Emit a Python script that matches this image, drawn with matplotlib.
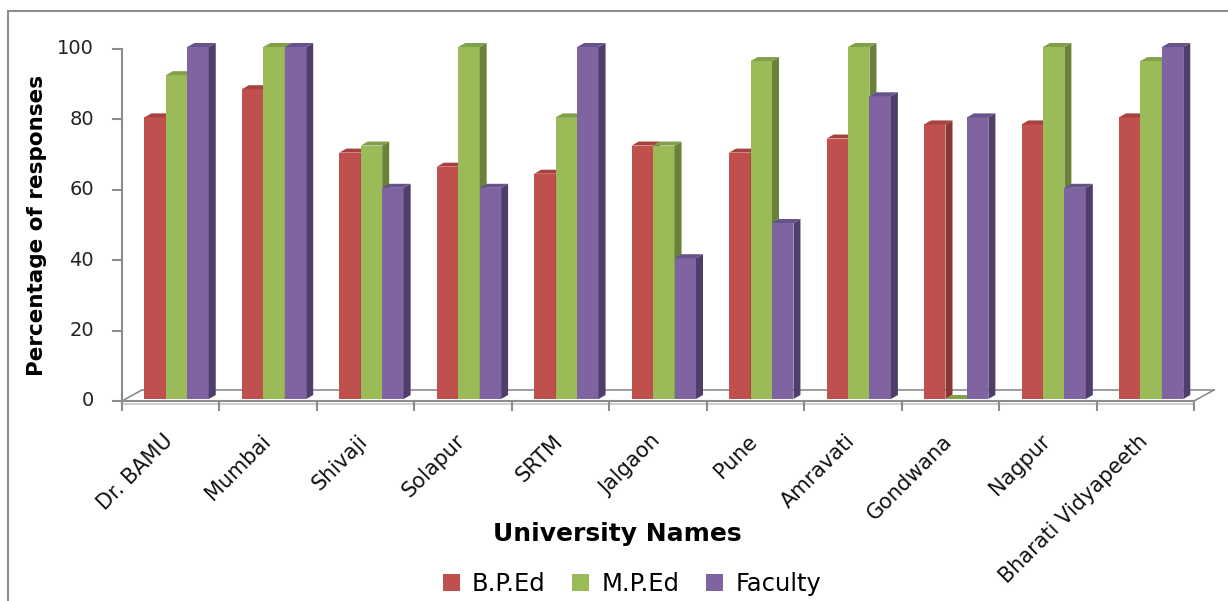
import matplotlib
matplotlib.use('Agg')
import matplotlib.pyplot as plt
from matplotlib.patches import Polygon, Rectangle, Patch

# values
universities = ['Dr. BAMU', 'Mumbai', 'Shivaji', 'Solapur', 'SRTM', 'Jalgaon',
                'Pune', 'Amravati', 'Gondwana', 'Nagpur', 'Bharati Vidyapeeth']
bped = [80, 88, 70, 66, 64, 72, 70, 74, 78, 78, 80]
mped = [92, 100, 72, 100, 80, 72, 96, 100, 0, 100, 96]
faculty = [100, 100, 60, 60, 100, 40, 50, 86, 80, 60, 100]
series_names = ['B.P.Ed', 'M.P.Ed', 'Faculty']
yticks = [0, 20, 40, 60, 80, 100]

# face, side, top colours per series
colors = [('#C0504D', '#8A3634', '#A7413F'),
          ('#9BBB59', '#6A8138', '#80A04A'),
          ('#8064A2', '#4F3D6B', '#68528C')]

W, H = 1228, 601
fig = plt.figure(figsize=(W / 100, H / 100), dpi=100)
# plot region in pixels: x 122..1194, value 0 at y=401, 100 at y=49
ax = fig.add_axes([122 / W, (H - 401) / H, (1194 - 122) / W, (401 - 49) / H])
ax.set_xlim(0, 11)
ax.set_ylim(0, 100)
ax.axis('off')

ux = (1194 - 122) / 11.0   # px per category
uy = (401 - 49) / 100.0    # px per percent
grey = '#8C8C8C'

# floor (3d look)
fdx, fdy = 20 / ux, 11 / uy
ax.plot([0, 11], [0, 0], color=grey, lw=1.5, clip_on=False, zorder=1)
ax.plot([0, 11], [-3 / uy, -3 / uy], color='#D0D0D0', lw=1.5, clip_on=False, zorder=1)
ax.plot([fdx, 11 + fdx], [fdy, fdy], color=grey, lw=1.2, clip_on=False, zorder=1)
ax.plot([0, fdx], [0, fdy], color=grey, lw=1.2, clip_on=False, zorder=1)
ax.plot([11, 11 + fdx], [0, fdy], color=grey, lw=1.2, clip_on=False, zorder=1)
for i in range(12):
    ax.plot([i, i], [0, -9 / uy], color=grey, lw=1.5, clip_on=False, zorder=1)

# value axis
ax.plot([0, 0], [0, 100], color=grey, lw=1.5, clip_on=False, zorder=1)
for t in yticks:
    ax.plot([-9 / ux, 0], [t, t], color=grey, lw=1.5, clip_on=False, zorder=1)
    ax.text(-28 / ux, t, str(t), ha='right', va='center', fontsize=14,
            color='#222222')

# bars with depth
bw = 0.22
start = 0.23
bdx, bdy = 7 / ux, 4 / uy
base = 2 / uy
z = 2
for i in range(len(universities)):
    for j, vals in enumerate([bped, mped, faculty]):
        v = vals[i]
        face, side, top = colors[j]
        x0 = i + start + j * bw
        ax.bar(x0, v, width=bw, bottom=base, align='edge', color=face,
               linewidth=0, clip_on=False, zorder=z)
        ax.add_patch(Polygon([(x0 + bw, base), (x0 + bw + bdx, base + bdy),
                              (x0 + bw + bdx, base + v + bdy), (x0 + bw, base + v)],
                             closed=True, facecolor=side, linewidth=0,
                             clip_on=False, zorder=z))
        ax.add_patch(Polygon([(x0, base + v), (x0 + bdx, base + v + bdy),
                              (x0 + bw + bdx, base + v + bdy), (x0 + bw, base + v)],
                             closed=True, facecolor=top, linewidth=0,
                             clip_on=False, zorder=z))
        z += 0.01

# category labels
for i, name in enumerate(universities):
    ax.text(i + 0.5 + 6 / ux, -30 / uy, name, rotation=45, ha='right', va='top',
            fontsize=15, color='#111111')

fig.text(37 / W, 1 - 225 / H, 'Percentage of responses', rotation=90,
         ha='center', va='center', fontsize=15.5, fontweight='bold')
fig.text(617 / W, 1 - 534 / H, 'University Names', ha='center', va='center',
         fontsize=18, fontweight='bold')

handles = [Patch(facecolor=c[0], label=n) for c, n in zip(colors, series_names)]
fig.legend(handles=handles, loc='center', bbox_to_anchor=(632 / W, 1 - 584 / H),
           ncol=3, frameon=False, fontsize=17.5, handlelength=0.7,
           handleheight=0.7, handletextpad=0.5, columnspacing=1.1)

# chart outer border (runs off the right and bottom)
fig.add_artist(Rectangle((8 / W, -0.2), 1.2, (H - 11) / H + 0.2,
                         transform=fig.transFigure, fill=False,
                         edgecolor='#8C8C8C', lw=1.5))

fig.savefig('out.png', dpi=100)
